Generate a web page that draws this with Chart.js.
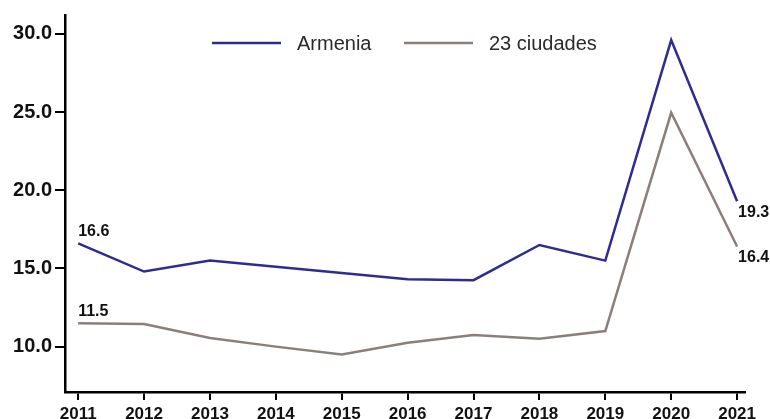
<!DOCTYPE html>
<html>
<head>
<meta charset="utf-8">
<script src="https://cdn.jsdelivr.net/npm/chart.js@4.4.1/dist/chart.umd.min.js"></script>
<style>
    html, body { margin: 0; padding: 0; background: #fff; }
    #wrap { width: 770px; height: 419px; position: relative; }
</style>
</head>
<body>
<div id="wrap"><canvas id="trendChart"></canvas></div>
<script>
// Data
const years = [2011, 2012, 2013, 2014, 2015, 2016, 2017, 2018, 2019, 2020, 2021];
const armenia = [16.6, 14.8, 15.5, 15.1, 14.7, 14.3, 14.25, 16.5, 15.5, 29.6, 19.3];
const ciudades = [11.5, 11.45, 10.55, 10.0, 9.5, 10.25, 10.75, 10.5, 11.0, 24.95, 16.4];
const yTicks = [10, 15, 20, 25, 30];
const seriesNames = ['Armenia', '23 ciudades'];

document.addEventListener('DOMContentLoaded', function () {

    const FONT = "'Liberation Sans', Arial, sans-serif";
    const BLUE = '#302c8e';
    const GRAY = '#8b7f7b';

    // value labels on first and last points
    const valueLabels = {
        id: 'valueLabels',
        afterDatasetsDraw(chart) {
            const ctx = chart.ctx;
            ctx.save();
            ctx.font = 'bold 16px ' + FONT;
            ctx.fillStyle = '#111';
            ctx.textAlign = 'left';
            ctx.textBaseline = 'middle';
            chart.data.datasets.forEach((ds, i) => {
                const pts = chart.getDatasetMeta(i).data;
                const first = pts[0], last = pts[pts.length - 1];
                ctx.fillText(ds.data[0].y.toFixed(1), first.x, first.y - 12);
                ctx.fillText(ds.data[ds.data.length - 1].y.toFixed(1), last.x + 1, last.y + 11);
            });
            ctx.restore();
        }
    };

    // legend drawn inside plot area
    const insideLegend = {
        id: 'insideLegend',
        afterDraw(chart) {
            const ctx = chart.ctx;
            ctx.save();
            ctx.font = '20px ' + FONT;
            ctx.textBaseline = 'middle';
            const starts = [212, 404];
            chart.data.datasets.forEach((ds, i) => {
                const x = starts[i], y = 43;
                ctx.strokeStyle = ds.borderColor;
                ctx.lineWidth = 2.5;
                ctx.beginPath();
                ctx.moveTo(x, y);
                ctx.lineTo(x + 69, y);
                ctx.stroke();
                ctx.fillStyle = '#2a2a2a';
                ctx.fillText(ds.label, x + 85, y + 1);
            });
            ctx.restore();
        }
    };

    new Chart(document.getElementById('trendChart').getContext('2d'), {
        type: 'line',
        data: {
            datasets: [
                {
                    label: seriesNames[0],
                    data: years.map((y, i) => ({ x: y, y: armenia[i] })),
                    borderColor: BLUE,
                    borderWidth: 2.5,
                    pointRadius: 0,
                    tension: 0
                },
                {
                    label: seriesNames[1],
                    data: years.map((y, i) => ({ x: y, y: ciudades[i] })),
                    borderColor: GRAY,
                    borderWidth: 2.5,
                    pointRadius: 0,
                    tension: 0
                }
            ]
        },
        options: {
            responsive: true,
            maintainAspectRatio: false,
            animation: false,
            layout: { padding: { top: 13, right: 25, left: 0, bottom: 0 } },
            plugins: {
                legend: { display: false },
                tooltip: { enabled: false }
            },
            scales: {
                x: {
                    type: 'linear',
                    min: 2010.8,
                    max: 2021.12,
                    afterBuildTicks: (axis) => { axis.ticks = years.map(v => ({ value: v })); },
                    afterFit: (axis) => { axis.height = 27; },
                    border: { display: true, color: '#000', width: 2.5 },
                    grid: { drawOnChartArea: false, drawTicks: true, tickLength: 8, color: '#000', lineWidth: 2 },
                    ticks: {
                        padding: 4,
                        color: '#111',
                        maxRotation: 0,
                        autoSkip: false,
                        font: { family: FONT, size: 17, weight: 'bold' },
                        callback: (v) => String(v)
                    }
                },
                y: {
                    min: 7.1,
                    max: 31.2,
                    afterBuildTicks: (axis) => { axis.ticks = yTicks.map(v => ({ value: v })); },
                    afterFit: (axis) => { axis.width = 65; },
                    border: { display: true, color: '#000', width: 2.5 },
                    grid: { drawOnChartArea: false, drawTicks: true, tickLength: 10, color: '#000', lineWidth: 2 },
                    ticks: {
                        padding: 3,
                        color: '#111',
                        font: { family: FONT, size: 20, weight: 'bold' },
                        callback: (v) => v.toFixed(1)
                    }
                }
            }
        },
        plugins: [valueLabels, insideLegend]
    });

});
</script>
</body>
</html>
